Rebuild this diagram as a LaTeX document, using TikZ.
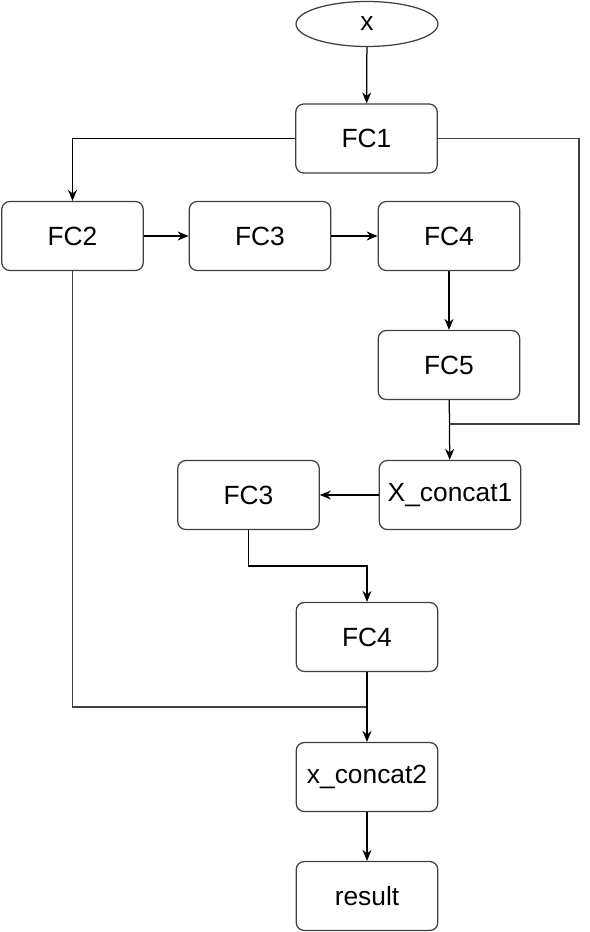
\documentclass[tikz,border=0pt]{standalone}
\usepackage{fontspec}
\setmainfont{Liberation Sans}
\usetikzlibrary{positioning}
\usetikzlibrary{arrows.meta}
\usetikzlibrary{shapes.geometric}

\begin{document}
\begin{tikzpicture}[
  x=0.02cm,
  y=-0.02cm,
  line width=0.25mm,
  block/.style={draw=black!75, rounded corners=0.16cm, minimum width=2.83cm,
                minimum height=1.38cm, inner sep=0pt, font=\fontsize{15}{18}\selectfont},
  input/.style={draw=black!75, ellipse, minimum width=2.84cm, minimum height=0.9cm,
                inner sep=0pt, font=\fontsize{15}{18}\selectfont},
  wire/.style={draw=black!75},
  link/.style={-{Stealth[length=2.2mm, width=1.8mm]}, draw=black},
  ]

  \path[use as bounding box] (0,0) rectangle (590,932);

  % Nodes
  \node[input] (x)      at (367, 24)   {x};
  \node[block] (fc1)    at (366.5, 138.5) {FC1};
  \node[block] (fc2)    at (72.5, 236) {FC2};
  \node[block] (fc3a)   at (260, 236)  {FC3};
  \node[block] (fc4a)   at (449, 236)  {FC4};
  \node[block] (fc5)    at (449, 365)  {FC5};
  \node[block] (cat1)   at (450, 495)  {X\_concat1};
  \node[block] (fc3b)   at (248.5, 495) {FC3};
  \node[block] (fc4b)   at (367, 637)  {FC4};
  \node[block] (cat2)   at (367, 777)  {x\_concat2};
  \node[block] (result) at (367, 896)  {result};

  % Bend points of the skip lines
  \coordinate (r1) at (579, 424);
  \coordinate (j1) at (449, 424);
  \coordinate (k1) at (248.5, 566);
  \coordinate (k2) at (72.5, 707);
  \coordinate (j2) at (367, 707);

  % Connectors
  \draw[link] (x) -- (fc1);
  \draw[link] (fc1.west) -| (fc2.north);
  \draw[wire] (fc1.east) -| (r1) -- (j1);
  \draw[link] (fc2) -- (fc3a);
  \draw[link] (fc3a) -- (fc4a);
  \draw[link] (fc4a) -- (fc5);
  \draw[link] (fc5) -- (cat1);
  \draw[link] (cat1) -- (fc3b);
  \draw[link] (fc3b.south) -- (k1) -| (fc4b.north);
  \draw[wire] (fc2.south) -- (k2) -- (j2);
  \draw[link] (fc4b) -- (cat2);
  \draw[link] (cat2) -- (result);

\end{tikzpicture}
\end{document}
